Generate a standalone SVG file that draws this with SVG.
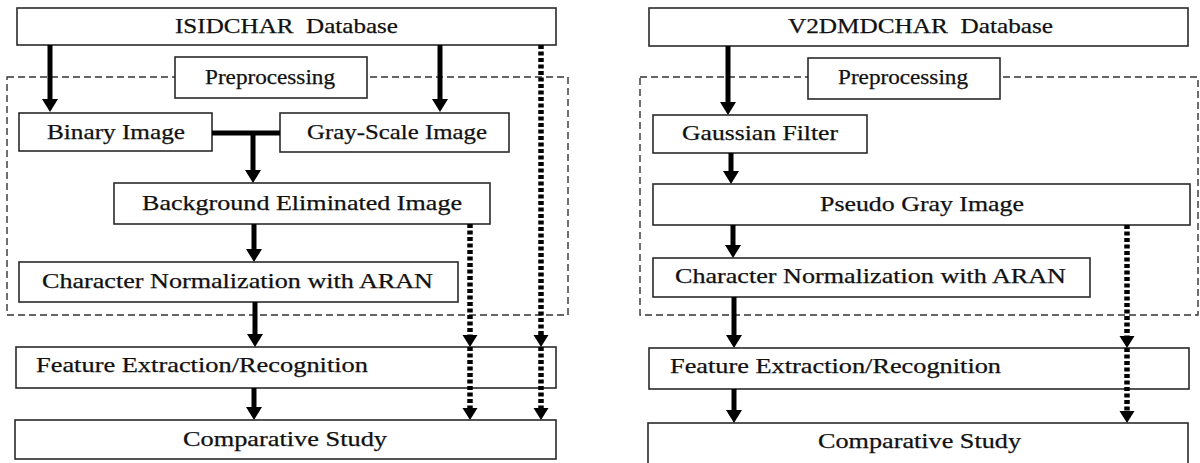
<svg xmlns="http://www.w3.org/2000/svg" width="1200" height="463" viewBox="0 0 1200 463">
<defs>
<style>
.box{fill:#fff;stroke:#2a2a2a;stroke-width:1.6}
.grp{fill:none;stroke:#333;stroke-width:1.4;stroke-dasharray:7 4}
.t{font-family:"Liberation Serif","Times New Roman",serif;font-size:21px;fill:#111;stroke:#111;stroke-width:0.25}
.sol{stroke:#000;stroke-width:5;fill:none}
.dot{stroke:#000;stroke-width:5.5;stroke-dasharray:4 2.5;fill:none}
</style>
<marker id="ah" markerUnits="userSpaceOnUse" markerWidth="14" markerHeight="17" refX="0" refY="8" orient="auto" overflow="visible">
<path d="M0,0 L13,8 L0,16 z" fill="#000"/>
</marker>
<marker id="dh" markerUnits="userSpaceOnUse" markerWidth="14" markerHeight="16" refX="0" refY="7.5" orient="auto" overflow="visible">
<path d="M0,0 L12,7.5 L0,15 z" fill="#000"/>
</marker>
</defs>

<rect class="grp" x="7" y="77" width="561" height="238"/>
<rect class="grp" x="640" y="77" width="558" height="238"/>

<g id="isidchar"><rect class="box" x="17" y="8" width="539" height="37"/><text class="t" xml:space="preserve" x="175" y="33" textLength="223" lengthAdjust="spacingAndGlyphs">ISIDCHAR  Database</text></g>
<g id="prep-left"><rect class="box" x="175" y="57" width="192" height="41"/><text class="t" x="205" y="84" textLength="130" lengthAdjust="spacingAndGlyphs">Preprocessing</text></g>
<g id="binary"><rect class="box" x="19" y="113" width="193" height="38"/><text class="t" x="47" y="139" textLength="138" lengthAdjust="spacingAndGlyphs">Binary Image</text></g>
<g id="grayscale"><rect class="box" x="280" y="113" width="229" height="39"/><text class="t" x="307" y="139" textLength="180" lengthAdjust="spacingAndGlyphs">Gray-Scale Image</text></g>
<g id="background"><rect class="box" x="114" y="183" width="376" height="41"/><text class="t" x="142" y="210" textLength="320" lengthAdjust="spacingAndGlyphs">Background Eliminated Image</text></g>
<g id="norm-left"><rect class="box" x="19" y="262" width="439" height="40"/><text class="t" x="42" y="288" textLength="391" lengthAdjust="spacingAndGlyphs">Character Normalization with ARAN</text></g>
<g id="feature-left"><rect class="box" x="16" y="347" width="540" height="41"/><text class="t" x="36" y="372" textLength="332" lengthAdjust="spacingAndGlyphs">Feature Extraction/Recognition</text></g>
<g id="compare-left"><rect class="box" x="15" y="420" width="541" height="39"/><text class="t" x="183" y="446" textLength="204" lengthAdjust="spacingAndGlyphs">Comparative Study</text></g>

<g id="v2dmdchar"><rect class="box" x="649" y="8" width="539" height="38"/><text class="t" xml:space="preserve" x="788" y="33" textLength="265" lengthAdjust="spacingAndGlyphs">V2DMDCHAR  Database</text></g>
<g id="prep-right"><rect class="box" x="808" y="58" width="192" height="41"/><text class="t" x="838" y="84" textLength="130" lengthAdjust="spacingAndGlyphs">Preprocessing</text></g>
<g id="gaussian"><rect class="box" x="653" y="115" width="214" height="38"/><text class="t" x="682" y="140" textLength="156" lengthAdjust="spacingAndGlyphs">Gaussian Filter</text></g>
<g id="pseudo"><rect class="box" x="653" y="184" width="537" height="41"/><text class="t" x="820" y="211" textLength="204" lengthAdjust="spacingAndGlyphs">Pseudo Gray Image</text></g>
<g id="norm-right"><rect class="box" x="653" y="258" width="437" height="39"/><text class="t" x="675" y="283" textLength="391" lengthAdjust="spacingAndGlyphs">Character Normalization with ARAN</text></g>
<g id="feature-right"><rect class="box" x="649" y="348" width="540" height="41"/><text class="t" x="670" y="373" textLength="331" lengthAdjust="spacingAndGlyphs">Feature Extraction/Recognition</text></g>
<g id="compare-right"><rect class="box" x="648" y="423" width="540" height="50"/><text class="t" x="818" y="448" textLength="203" lengthAdjust="spacingAndGlyphs">Comparative Study</text></g>

<g id="connectors">
<line class="sol" x1="50" y1="45" x2="50" y2="99" marker-end="url(#ah)"/>
<line class="sol" x1="440" y1="45" x2="440" y2="99" marker-end="url(#ah)"/>
<line class="sol" x1="212" y1="133" x2="280" y2="133"/>
<line class="sol" x1="253" y1="131" x2="253" y2="170" marker-end="url(#ah)"/>
<line class="sol" x1="254" y1="224" x2="254" y2="249" marker-end="url(#ah)"/>
<line class="sol" x1="255" y1="302" x2="255" y2="334" marker-end="url(#ah)"/>
<line class="sol" x1="254" y1="388" x2="254" y2="407" marker-end="url(#ah)"/>
<line class="dot" x1="541" y1="45" x2="541" y2="335" marker-end="url(#dh)"/>
<line class="dot" x1="541" y1="347" x2="541" y2="408" marker-end="url(#dh)"/>
<line class="dot" x1="470" y1="224" x2="470" y2="335" marker-end="url(#dh)"/>
<line class="dot" x1="470" y1="347" x2="470" y2="408" marker-end="url(#dh)"/>

<line class="sol" x1="728" y1="46" x2="728" y2="102" marker-end="url(#ah)"/>
<line class="sol" x1="731" y1="153" x2="731" y2="171" marker-end="url(#ah)"/>
<line class="sol" x1="733" y1="225" x2="733" y2="245" marker-end="url(#ah)"/>
<line class="sol" x1="734" y1="297" x2="734" y2="335" marker-end="url(#ah)"/>
<line class="sol" x1="734" y1="389" x2="734" y2="410" marker-end="url(#ah)"/>
<line class="dot" x1="1127" y1="225" x2="1127" y2="336" marker-end="url(#dh)"/>
<line class="dot" x1="1127" y1="348" x2="1127" y2="411" marker-end="url(#dh)"/>
</g>
</svg>
